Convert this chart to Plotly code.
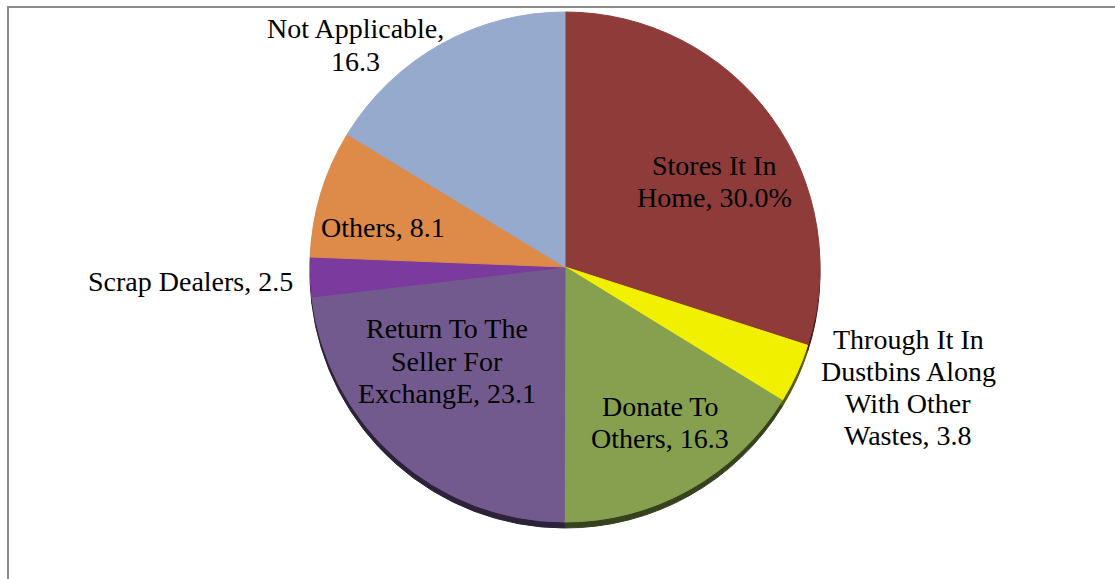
import plotly.graph_objects as go

# Disposal practices, shares in percent (clockwise from 12 o'clock)
categories = [
    "Stores It In Home",
    "Through It In Dustbins Along With Other Wastes",
    "Donate To Others",
    "Return To The Seller For ExchangE",
    "Scrap Dealers",
    "Others",
    "Not Applicable",
]
values = [30.0, 3.8, 16.3, 23.1, 2.5, 8.1, 16.3]
value_suffix = ["%", "", "", "", "", "", ""]

# Label line breaks as printed on the chart; the value is appended to the last line
label_lines = [
    ["Stores It In", "Home,"],
    ["Through It In", "Dustbins Along", "With Other", "Wastes,"],
    ["Donate To", "Others,"],
    ["Return To The", "Seller For", "ExchangE,"],
    ["Scrap Dealers,"],
    ["Others,"],
    ["Not Applicable,", ""],
]

colors = ["#8E3B3A", "#F0F000", "#86A04F", "#735A8E", "#7B3A9E", "#DE8A48", "#96AACE"]
shadow_colors = ["#3E1818", "#5A5A00", "#36421E", "#2C2239", "#30163E", "#5E3A1C", "#3C4456"]

W, H = 1115, 579
cx, cy, r = 565, 267, 255
shadow_dy = 6
line_gap = 32
font = dict(family="Liberation Serif", size=28, color="#000000")


def px_domain(cx, cy, r):
    return dict(
        x=[(cx - r) / W, (cx + r) / W],
        y=[1 - (cy + r) / H, 1 - (cy - r) / H],
    )


fig = go.Figure()

# darker copy underneath gives the rim shadow
fig.add_trace(go.Pie(
    labels=categories, values=values, sort=False, direction="clockwise", rotation=0,
    marker=dict(colors=shadow_colors, line=dict(width=1, color=shadow_colors)),
    textinfo="none", hoverinfo="skip", showlegend=False,
    domain=px_domain(cx, cy + shadow_dy, r),
))

# slice outlines in the slice's own colour so no seams show between wedges
fig.add_trace(go.Pie(
    labels=categories, values=values, sort=False, direction="clockwise", rotation=0,
    marker=dict(colors=colors, line=dict(width=1, color=colors)),
    textinfo="none", showlegend=False,
    domain=px_domain(cx, cy, r),
))

# label anchor: pixel centre x, centre y of the first line
label_pos = [(714, 165), (908, 339), (660, 406), (447, 329), (190, 281), (383, 227), (355, 29)]


def fmt(v, suffix):
    return f"{v:.1f}{suffix}"


annotations = []
for lines, v, suf, (x, y0) in zip(label_lines, values, value_suffix, label_pos):
    parts = list(lines)
    parts[-1] = (parts[-1] + " " + fmt(v, suf)).strip()
    for i, txt in enumerate(parts):
        annotations.append(dict(
            x=x / W, y=1 - (y0 + i * line_gap) / H, xref="paper", yref="paper",
            text=txt, showarrow=False, align="center",
            xanchor="center", yanchor="middle", font=font,
        ))

fig.update_layout(
    width=W, height=H,
    margin=dict(l=0, r=0, t=0, b=0),
    paper_bgcolor="white", plot_bgcolor="white",
    showlegend=False,
    annotations=annotations,
    shapes=[dict(
        type="rect", xref="paper", yref="paper",
        x0=8 / W, x1=1.05, y0=-0.05, y1=1 - 7 / H,
        line=dict(color="#8C8C8C", width=2), fillcolor="rgba(0,0,0,0)", layer="below",
    )],
    hovermode=False,
)

fig.write_html("out.html")
